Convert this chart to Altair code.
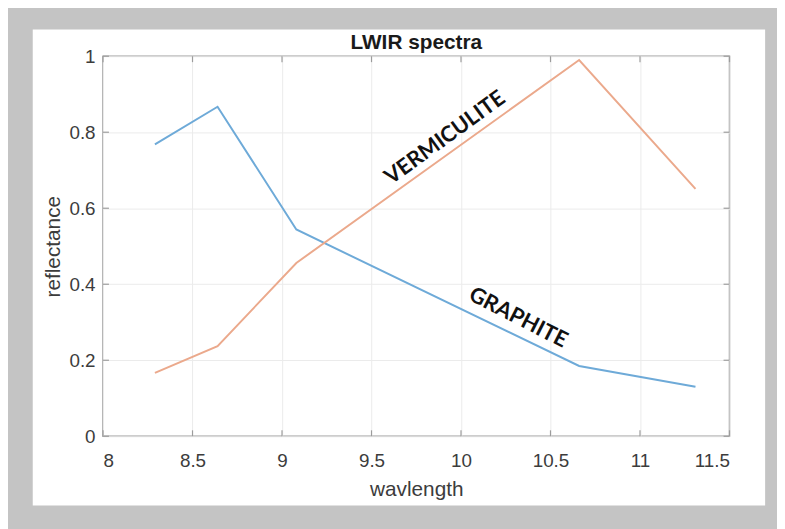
import altair as alt
import pandas as pd

# ---- data ----
wavelength = [8.29, 8.64, 9.08, 10.66, 11.31]
graphite = [0.768, 0.867, 0.544, 0.185, 0.130]
vermiculite = [0.167, 0.237, 0.456, 0.990, 0.651]
series_names = ["GRAPHITE", "VERMICULITE"]
x_ticks = [8, 8.5, 9, 9.5, 10, 10.5, 11, 11.5]
y_ticks = [0, 0.2, 0.4, 0.6, 0.8, 1]
label_text = ["VERMICULITE", "GRAPHITE"]
label_x = [9.91, 10.32]
label_y = [0.786, 0.3125]
label_angle = [324, 27]
chart_title = "LWIR spectra"

# ---- styling ----
W, H = 633, 384
GRAY_BG = "#c4c4c4"
AX = "#9c9c9c"
GRID = "#ebebeb"
TXT = "#3c3c3c"
BLUE = "#6eaad8"
ORANGE = "#eba98c"
FONT = "Liberation Sans"

rows = []
for name, vals in zip(series_names, [graphite, vermiculite]):
    for w, v in zip(wavelength, vals):
        rows.append({"wavelength": w, "reflectance": v, "series": name})
df = pd.DataFrame(rows)

labels_df = pd.DataFrame({"wavelength": label_x, "reflectance": label_y,
                          "text": label_text, "angle": label_angle})
xt_df = pd.DataFrame({"wavelength": x_ticks})
yt_df = pd.DataFrame({"reflectance": y_ticks})

xscale = alt.Scale(domain=[8, 11.5], nice=False, zero=False)
yscale = alt.Scale(domain=[0, 1], nice=False, zero=False)

xaxis = alt.Axis(values=x_ticks, format="~g", title="wavlength", grid=True,
                 gridColor=GRID, gridWidth=1, domain=False, tickSize=0,
                 labelPadding=16, labelFontSize=19, labelFont=FONT, labelColor=TXT,
                 titleFontSize=21, titleFont=FONT, titleColor=TXT,
                 titleFontWeight="normal", titlePadding=8)
yaxis = alt.Axis(values=y_ticks, format="~g", title="reflectance", grid=True,
                 gridColor=GRID, gridWidth=1, domain=False, tickSize=0,
                 labelPadding=8, labelFontSize=19, labelFont=FONT, labelColor=TXT,
                 titleFontSize=21, titleFont=FONT, titleColor=TXT,
                 titleFontWeight="normal", titlePadding=6)


def X():
    return alt.X("wavelength:Q", scale=xscale, axis=xaxis)


def Y():
    return alt.Y("reflectance:Q", scale=yscale, axis=yaxis)


# gray surround drawn as a wide stroke outside the white panel
frame = alt.Chart(alt.Data(values=[{}])).mark_rect(
    fillOpacity=0, stroke=GRAY_BG, strokeWidth=200, clip=False
).encode(x=alt.value(-171), x2=alt.value(769), y=alt.value(-127), y2=alt.value(554))

title = alt.Chart(alt.Data(values=[{}])).mark_text(
    text=chart_title, font=FONT, fontSize=21, fontWeight="bold", color="#1a1a1a",
    align="center", baseline="middle", clip=False
).encode(x=alt.value(W / 2), y=alt.value(-13))

lines = alt.Chart(df).mark_line(strokeWidth=2).encode(
    x=X(), y=Y(),
    color=alt.Color("series:N", scale=alt.Scale(domain=series_names, range=[BLUE, ORANGE]),
                    legend=None),
)

labels = alt.Chart(labels_df).mark_text(
    font="Lato", fontSize=22, fontWeight="bold", color="#111111",
    align="center", baseline="middle"
).encode(x=X(), y=Y(), text="text:N", angle=alt.Angle("angle:Q", scale=None))

xt_bottom = alt.Chart(xt_df).mark_rule(color=AX, strokeWidth=1.2).encode(
    x=X(), y=alt.value(H), y2=alt.value(H - 6))
xt_top = alt.Chart(xt_df).mark_rule(color=AX, strokeWidth=1.2).encode(
    x=X(), y=alt.value(0), y2=alt.value(6))
yt_left = alt.Chart(yt_df).mark_rule(color=AX, strokeWidth=1.2).encode(
    y=Y(), x=alt.value(0), x2=alt.value(6))
yt_right = alt.Chart(yt_df).mark_rule(color=AX, strokeWidth=1.2).encode(
    y=Y(), x=alt.value(W), x2=alt.value(W - 6))

chart = alt.layer(frame, title, lines, labels, xt_bottom, xt_top, yt_left, yt_right).properties(
    width=W, height=H,
    autosize=alt.AutoSizeParams(type="none"),
    padding={"left": 96, "top": 46, "right": 48, "bottom": 91},
    background="white",
).configure_view(stroke=AX, strokeWidth=1.5)

chart.save("out.html", embed_options={"renderer": "svg", "actions": False})
